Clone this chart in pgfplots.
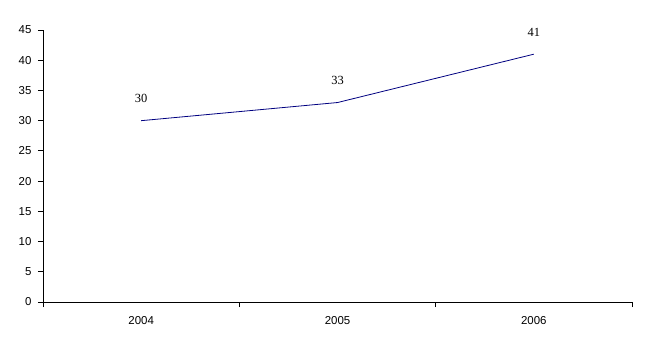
\documentclass[border=0pt]{standalone}
\usepackage{fontspec}
\setmainfont{Liberation Serif}
\newfontfamily\tickfont{Liberation Sans}
\usepackage{pgfplots}
\pgfplotsset{compat=1.18}
\definecolor{navyline}{RGB}{0,0,128}
\begin{document}
\begin{tikzpicture}[x=1bp,y=1bp]
\useasboundingbox (0,0) rectangle (649,353);
\begin{axis}[
  at={(43bp,51bp)}, anchor=south west,
  scale only axis, width=589bp, height=272bp,
  xmin=-0.5, xmax=2.5, ymin=0, ymax=45,
  axis lines=left, axis line style={-,black, line width=0.8bp},
  xtick={-0.5,0.5,1.5,2.5}, x tick label as interval,
  xticklabels={2004,2005,2006},
  ytick={0,5,...,45},
  tick align=outside, major tick length=5bp,
  tick style={black, line width=0.8bp},
  ticklabel style={font=\tickfont\fontsize{11.5}{13}\selectfont},
  /pgf/number format/assume math mode=true,
  yticklabel style={xshift=-3bp},
  xticklabel style={yshift=-6bp},
  clip=false,
  nodes near coords,
  nodes near coords style={anchor=center, yshift=22bp, font=\fontsize{12.5}{14}\selectfont, black},
]
\addplot[navyline, line width=0.8bp, mark=none] coordinates {(0,30) (1,33) (2,41)};
\end{axis}
\end{tikzpicture}
\end{document}
